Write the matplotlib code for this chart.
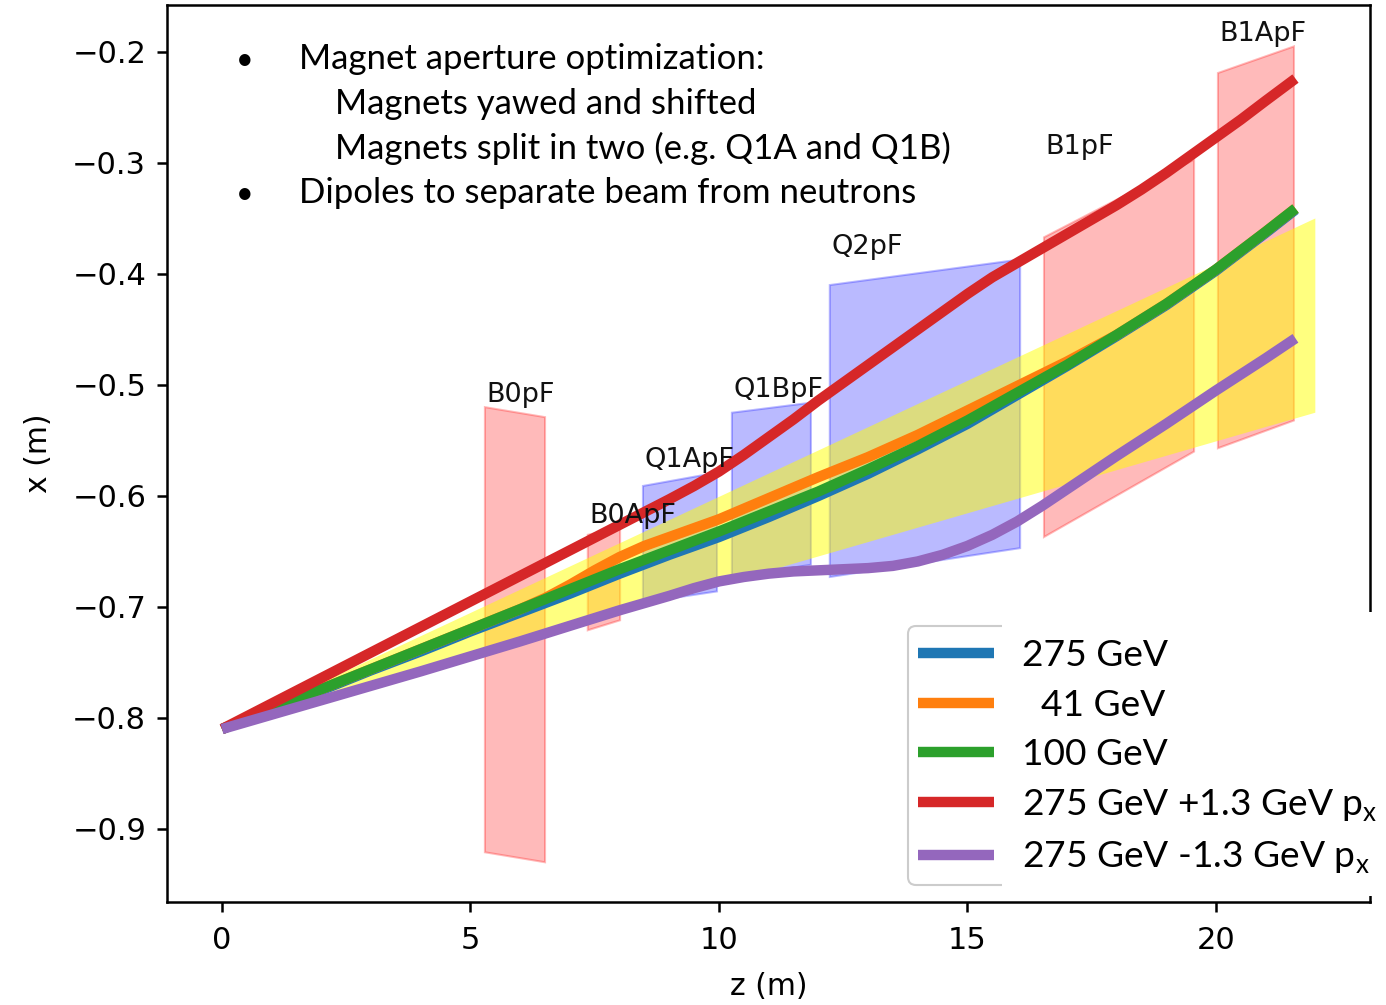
import matplotlib
matplotlib.use("Agg")
import matplotlib.pyplot as plt
from matplotlib.patches import Polygon, Rectangle, FancyBboxPatch
from matplotlib.transforms import IdentityTransform

# ---------------- data ----------------
z_pts = [0, 1, 2, 3, 4, 5, 6, 7, 8, 9, 10, 11, 12, 13, 14, 15, 16, 17, 18, 19, 20, 21, 21.6]

x_275 = [-0.810, -0.792, -0.775, -0.757, -0.740, -0.722, -0.705, -0.688, -0.670, -0.653, -0.637,
         -0.619, -0.600, -0.580, -0.558, -0.535, -0.509, -0.483, -0.456, -0.428, -0.397, -0.363, -0.342]
z_41 = [0, 2, 4, 5, 6, 6.5, 7, 7.5, 8, 8.5, 9, 10, 11, 12, 13, 14, 15, 16, 17, 18, 19, 20, 21, 21.6]
x_41 = [-0.810, -0.774, -0.738, -0.720, -0.702, -0.692, -0.680, -0.667, -0.655, -0.645, -0.637,
        -0.621, -0.602, -0.583, -0.565, -0.545, -0.523, -0.501, -0.479, -0.455, -0.427, -0.396,
        -0.362, -0.341]
x_100 = [-0.810, -0.792, -0.774, -0.756, -0.738, -0.720, -0.702, -0.684, -0.666, -0.649, -0.632,
         -0.614, -0.596, -0.576, -0.555, -0.532, -0.507, -0.482, -0.455, -0.427, -0.396, -0.362, -0.341]
z_plus = [0, 2, 4, 6, 8, 9, 9.5, 10, 10.5, 11, 11.5, 12, 12.5, 13, 13.5, 14, 14.5, 15, 15.5, 16,
          16.5, 17, 17.5, 18, 18.5, 19, 19.5, 20, 20.5, 21, 21.6]
x_plus = [-0.810, -0.764, -0.718, -0.672, -0.626, -0.603, -0.591, -0.578, -0.563, -0.547, -0.531,
          -0.514, -0.498, -0.482, -0.466, -0.450, -0.434, -0.418, -0.403, -0.390, -0.377, -0.364,
          -0.351, -0.338, -0.324, -0.309, -0.293, -0.277, -0.261, -0.244, -0.224]
z_minus = [0, 2, 4, 6, 8, 9, 9.5, 10, 10.5, 11, 11.5, 12, 12.5, 13, 13.5, 14, 14.5, 15, 15.5, 16,
           16.5, 17, 17.5, 18, 19, 20, 21, 21.6]
x_minus = [-0.810, -0.784, -0.758, -0.731, -0.703, -0.690, -0.683, -0.677, -0.673, -0.670, -0.668,
           -0.667, -0.666, -0.665, -0.663, -0.659, -0.653, -0.645, -0.635, -0.623, -0.609, -0.594,
           -0.579, -0.564, -0.535, -0.505, -0.476, -0.458]

series_labels = ["275 GeV", "  41 GeV", "100 GeV",
                 "275 GeV +1.3 GeV p$_{\\mathrm{x}}$", "275 GeV -1.3 GeV p$_{\\mathrm{x}}$"]
series_colors = ["#1f77b4", "#ff7f0e", "#2ca02c", "#d62728", "#9467bd"]

magnet_names = ["B0pF", "B0ApF", "Q1ApF", "Q1BpF", "Q2pF", "B1pF", "B1ApF"]
magnet_type = ["dipole", "dipole", "quad", "quad", "quad", "dipole", "dipole"]
z_in = [5.29, 7.36, 8.47, 10.26, 12.23, 16.54, 20.04]
z_out = [6.50, 8.01, 9.96, 11.85, 16.06, 19.56, 21.57]
top_in = [-0.520, -0.635, -0.591, -0.525, -0.410, -0.367, -0.219]
top_out = [-0.529, -0.629, -0.579, -0.516, -0.387, -0.297, -0.195]
bot_in = [-0.921, -0.721, -0.696, -0.673, -0.673, -0.637, -0.557]
bot_out = [-0.930, -0.712, -0.686, -0.662, -0.647, -0.560, -0.532]

# neutron cone
cone_z = [0, 22.0, 22.0]
cone_x = [-0.810, -0.350, -0.525]

x_ticks = [0, 5, 10, 15, 20]
y_ticks = [-0.9, -0.8, -0.7, -0.6, -0.5, -0.4, -0.3, -0.2]

notes = [("\u2022", "Magnet aperture optimization:", 0),
         ("", "Magnets yawed and shifted", 1),
         ("", "Magnets split in two (e.g. Q1A and Q1B)", 1),
         ("\u2022", "Dipoles to separate beam from neutrons", 0)]

# ---------------- figure ----------------
W, H = 1386, 1005
plt.rcParams["mathtext.rm"] = "Lato"
fig = plt.figure(figsize=(W / 100, H / 100), dpi=100)
ax = fig.add_axes([167 / W, 1 - 902 / H, (1370 - 167) / W, (902 - 5) / H])

mcol = {"dipole": "red", "quad": "blue"}
for i, name in enumerate(magnet_names):
    c = mcol[magnet_type[i]]
    poly = Polygon([(z_in[i], top_in[i]), (z_out[i], top_out[i]),
                    (z_out[i], bot_out[i]), (z_in[i], bot_in[i])],
                   closed=True, facecolor=c, edgecolor=c, alpha=0.27, lw=1.5, zorder=1)
    ax.add_patch(poly)
    ax.annotate(name, (z_in[i], max(top_in[i], top_out[i])), xytext=(1, 9),
                textcoords="offset points", ha="left", va="center", fontsize=19.5,
                color="#111111", zorder=6)

ax.fill(cone_z, cone_x, color="yellow", alpha=0.5, lw=0, zorder=2)

lines = []
curves = [(z_pts, x_275), (z_41, x_41), (z_pts, x_100), (z_plus, x_plus), (z_minus, x_minus)]
for (zz, xx), col, lab in zip(curves, series_colors, series_labels):
    ln, = ax.plot(zz, xx, color=col, lw=7.5, solid_capstyle="butt", solid_joinstyle="round",
                  zorder=3, label=lab)
    lines.append(ln)

ax.set_xlim(-1.107, 23.10)
ax.set_ylim(-0.9658, -0.1577)
ax.set_xticks(x_ticks)
ax.set_yticks(y_ticks)
ax.tick_params(labelsize=22, length=7.5, width=1.8, pad=7.5)
ax.tick_params(axis="x", pad=10)
for sp in ax.spines.values():
    sp.set_linewidth(1.8)
ax.set_xlabel("z (m)", fontsize=21.5, labelpad=12)
ax.set_ylabel("x (m)", fontsize=21.5, labelpad=14)


def px(x, y):
    return x / W, 1 - y / H


# overlay notes
for k, (b, t, ind) in enumerate(notes):
    yb = [69, 114, 159, 203][k]
    if b:
        fig.text(*px(245, yb), b, fontsize=22, family="Lato", ha="center", va="baseline")
    fig.text(*px(299 + 36 * ind, yb), t, fontsize=25, family="Lato", ha="left", va="baseline")

# legend partial frame + white cover
frame = FancyBboxPatch((908, H - 885), 200, 885 - 626, boxstyle="round,pad=0,rounding_size=8",
                       transform=IdentityTransform(), facecolor="white", edgecolor="0.8",
                       lw=1.5, zorder=1)
fig.add_artist(frame)
cover = Rectangle((1002, H - 896), W - 1002, 896 - 612, transform=IdentityTransform(),
                  facecolor="white", edgecolor="none", zorder=2)
fig.add_artist(cover)
leg = fig.legend(handles=lines, labels=series_labels, loc="upper left",
                 bbox_to_anchor=px(910.5, 632), borderaxespad=0, frameon=False,
                 prop={"family": "Lato", "size": 26.7, "math_fontfamily": "custom"},
                 handlelength=2.05, handletextpad=0.75, labelspacing=0.44, borderpad=0.2)
leg.set_zorder(3)

fig.savefig("out.png", dpi=100)
